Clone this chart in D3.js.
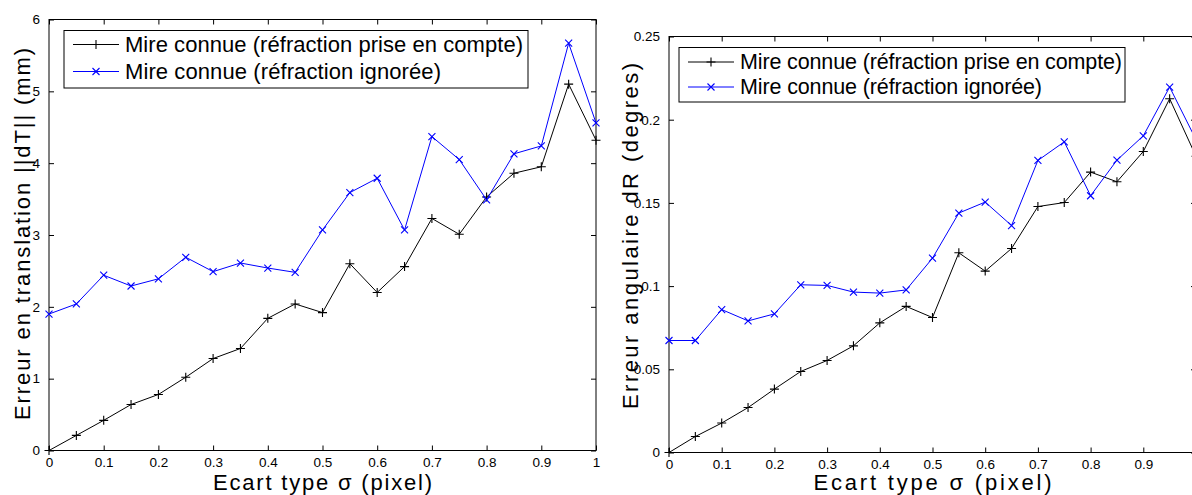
<!DOCTYPE html>
<html>
<head>
<meta charset="utf-8">
<script src="https://cdn.jsdelivr.net/npm/d3@7/dist/d3.min.js"></script>
<style>
  html, body { margin: 0; padding: 0; background: #fff; }
  svg { display: block; }
  text { font-family: "Liberation Sans", Arial, Helvetica, sans-serif; fill: #000; }
</style>
</head>
<body>
<svg id="chart" width="1192" height="495"></svg>
<script>
// Noise level sigma (pixel)
const sigma = [0, 0.05, 0.1, 0.15, 0.2, 0.25, 0.3, 0.35, 0.4, 0.45, 0.5,
               0.55, 0.6, 0.65, 0.7, 0.75, 0.8, 0.85, 0.9, 0.95, 1.0];

// Translation error ||dT|| (mm)
const transRefraction = [0, 0.21, 0.42, 0.64, 0.78, 1.02, 1.28, 1.42, 1.84, 2.04, 1.92,
                         2.60, 2.20, 2.56, 3.23, 3.01, 3.53, 3.86, 3.95, 5.10, 4.32];
const transIgnored    = [1.90, 2.04, 2.44, 2.29, 2.39, 2.69, 2.49, 2.61, 2.54, 2.48, 3.07,
                         3.59, 3.79, 3.07, 4.37, 4.05, 3.49, 4.13, 4.24, 5.67, 4.56];

// Angular error dR (degrees)
const rotRefraction = [0, 0.0096, 0.0177, 0.0270, 0.0381, 0.0487, 0.0553, 0.0641, 0.0779, 0.0878, 0.0811,
                       0.1200, 0.1090, 0.1226, 0.1478, 0.1502, 0.1685, 0.1627, 0.1809, 0.2126, 0.1780];
const rotIgnored    = [0.0673, 0.0673, 0.0859, 0.0791, 0.0833, 0.1008, 0.1004, 0.0964, 0.0958, 0.0977, 0.1168,
                       0.1439, 0.1505, 0.1364, 0.1755, 0.1867, 0.1543, 0.1757, 0.1903, 0.2196, 0.1880];

const xTicks = [0, 0.1, 0.2, 0.3, 0.4, 0.5, 0.6, 0.7, 0.8, 0.9, 1];
const transTicks = [0, 1, 2, 3, 4, 5, 6];
const rotTicks = [0, 0.05, 0.1, 0.15, 0.2, 0.25];

const seriesNames = ["Mire connue (réfraction prise en compte)", "Mire connue (réfraction ignorée)"];
const xLabel = "Ecart type σ (pixel)";

const W = 1192;
const svg = d3.select("#chart");

function drawPanel(opts) {
  const { left, right, top, bottom, yMax, yTicks, series, yLabel, yLabelX, yLabelLen, xLabelLen, legend } = opts;
  const x = d3.scaleLinear().domain([0, 1]).range([left, right]);
  const y = d3.scaleLinear().domain([0, yMax]).range([bottom, top]);
  const g = svg.append("g");
  const fmt = d3.format("~g");

  // frame
  g.append("rect")
    .attr("x", left).attr("y", top)
    .attr("width", right - left).attr("height", bottom - top)
    .attr("fill", "none").attr("stroke", "#000").attr("stroke-width", 1);

  // axes with inward ticks (bottom/left labelled, top/right bare)
  const styleAxis = sel => {
    sel.select(".domain").remove();
    sel.selectAll(".tick line").attr("stroke", "#000");
    sel.selectAll(".tick text").attr("font-size", 13.5).attr("fill", "#000");
  };
  const xAxisG = g.append("g").attr("transform", `translate(0,${bottom})`)
    .call(d3.axisBottom(x).tickValues(xTicks).tickSizeInner(-5).tickSizeOuter(0).tickPadding(7).tickFormat(fmt))
    .call(styleAxis);
  // labels that would fall outside the page are not drawn
  xAxisG.selectAll(".tick").filter(d => x(d) + 4 > W).select("text").remove();
  g.append("g").attr("transform", `translate(0,${top})`)
    .call(d3.axisTop(x).tickValues(xTicks).tickSizeInner(-5).tickSizeOuter(0).tickFormat(""))
    .call(styleAxis);
  g.append("g").attr("transform", `translate(${left},0)`)
    .call(d3.axisLeft(y).tickValues(yTicks).tickSizeInner(-5).tickSizeOuter(0).tickPadding(9).tickFormat(fmt))
    .call(styleAxis);
  g.append("g").attr("transform", `translate(${right},0)`)
    .call(d3.axisRight(y).tickValues(yTicks).tickSizeInner(-5).tickSizeOuter(0).tickFormat(""))
    .call(styleAxis);

  const line = d3.line().x((d, i) => x(sigma[i])).y(d => y(d));
  const plusPath = "M-4.5,0H4.5M0,-4.5V4.5";
  const crossPath = "M-3.5,-3.5L3.5,3.5M-3.5,3.5L3.5,-3.5";

  series.forEach(s => {
    g.append("path").datum(s.values)
      .attr("d", line).attr("fill", "none")
      .attr("stroke", s.color).attr("stroke-width", 1);
    g.append("g").selectAll("path").data(s.values).join("path")
      .attr("transform", (d, i) => `translate(${x(sigma[i])},${y(d)})`)
      .attr("d", s.marker === "plus" ? plusPath : crossPath)
      .attr("fill", "none").attr("stroke", s.color).attr("stroke-width", 1.1);
  });

  // axis titles
  g.append("text")
    .attr("x", (left + right) / 2).attr("y", 490)
    .attr("text-anchor", "middle").attr("font-size", 22)
    .attr("textLength", xLabelLen).attr("lengthAdjust", "spacing")
    .text(xLabel);
  g.append("text")
    .attr("transform", `translate(${yLabelX},${opts.yLabelY}) rotate(-90)`)
    .attr("text-anchor", "middle").attr("dominant-baseline", "central").attr("font-size", 22)
    .attr("textLength", yLabelLen).attr("lengthAdjust", "spacing")
    .text(yLabel);

  // legend
  const lg = g.append("g");
  lg.append("rect")
    .attr("x", legend.x).attr("y", legend.y)
    .attr("width", legend.w).attr("height", legend.h)
    .attr("fill", "#fff").attr("stroke", "#000").attr("stroke-width", 1);
  series.forEach((s, i) => {
    const cy = legend.y + legend.first + i * legend.step;
    const x0 = legend.x + 9, x1 = legend.x + 55;
    lg.append("line").attr("x1", x0).attr("x2", x1).attr("y1", cy).attr("y2", cy)
      .attr("stroke", s.color).attr("stroke-width", 1);
    lg.append("path")
      .attr("transform", `translate(${(x0 + x1) / 2},${cy})`)
      .attr("d", s.marker === "plus" ? plusPath : crossPath)
      .attr("fill", "none").attr("stroke", s.color).attr("stroke-width", 1.1);
    lg.append("text")
      .attr("x", legend.x + 61).attr("y", cy)
      .attr("dominant-baseline", "central").attr("font-size", legend.font)
      .attr("textLength", legend.lens[i]).attr("lengthAdjust", "spacing")
      .text(seriesNames[i]);
  });
}

drawPanel({
  left: 49, right: 596, top: 19.5, bottom: 450.5,
  yMax: 6, yTicks: transTicks,
  series: [
    { values: transRefraction, color: "#000000", marker: "plus" },
    { values: transIgnored, color: "#0000ff", marker: "x" }
  ],
  yLabel: "Erreur en translation ||dT|| (mm)", yLabelX: 22, yLabelY: 234, yLabelLen: 372,
  xLabelLen: 219,
  legend: { x: 64, y: 30.5, w: 464, h: 57.5, first: 14, step: 27, font: 22, lens: [398, 316] }
});

drawPanel({
  left: 669, right: 1196, top: 36.5, bottom: 452.5,
  yMax: 0.25, yTicks: rotTicks,
  series: [
    { values: rotRefraction, color: "#000000", marker: "plus" },
    { values: rotIgnored, color: "#0000ff", marker: "x" }
  ],
  yLabel: "Erreur angulaire dR (degres)", yLabelX: 630, yLabelY: 236, yLabelLen: 346,
  xLabelLen: 238,
  legend: { x: 679, y: 47.5, w: 446, h: 54.5, first: 14.5, step: 25, font: 21.5, lens: [382, 302] }
});
</script>
</body>
</html>
